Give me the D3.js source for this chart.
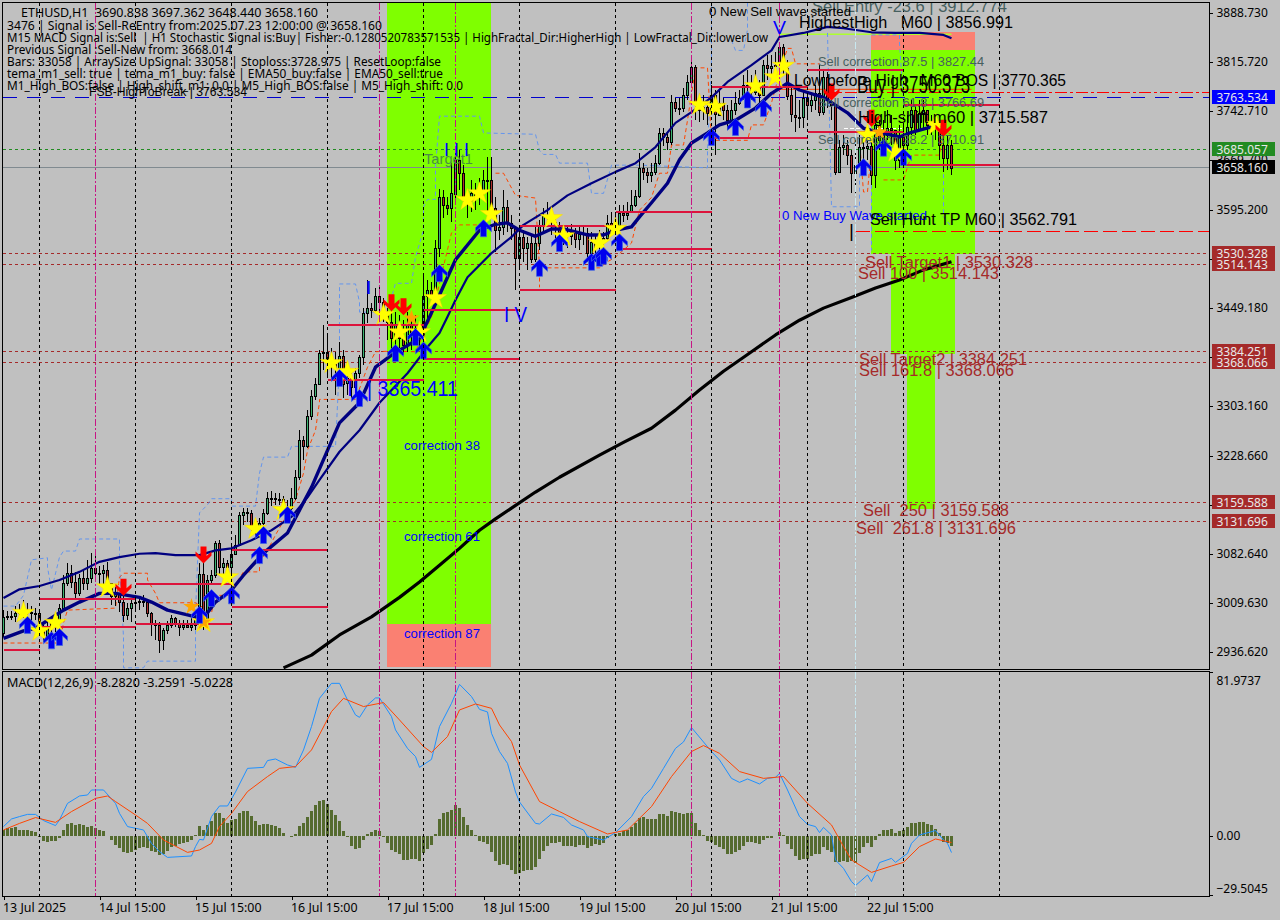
<!DOCTYPE html>
<html><head><meta charset="utf-8">
<script src="https://cdn.jsdelivr.net/npm/d3@7/dist/d3.min.js"></script>
<style>html,body{margin:0;padding:0;background:#c0c0c0;overflow:hidden}svg{display:block}</style>
</head><body><svg id="c" width="1280" height="920"></svg>
<script>
const firstOpen=2965;
const closes=[2989,2990,2990,2995,2998,2999,2996,2995,2995,2974,2960,2972,2980,2983,3002,3039,3054,3041,3024,3047,3039,3047,3062,3054,3054,3059,3039,3020,3024,3011,2992,3002,3010,3011,3013,3011,2995,2980,2977,2954,2969,2977,2987,2980,2974,2977,2974,2977,2984,3053,2981,3044,3051,3099,3063,3069,3063,3083,3096,3141,3145,3144,3121,3118,3129,3144,3166,3166,3165,3165,3153,3151,3166,3197,3252,3243,3288,3318,3336,3382,3383,3373,3366,3360,3378,3337,3345,3331,3352,3376,3442,3449,3446,3467,3458,3439,3428,3404,3424,3404,3394,3424,3409,3419,3404,3467,3476,3468,3538,3614,3602,3597,3620,3670,3650,3613,3610,3620,3617,3622,3640,3640,3598,3565,3570,3600,3576,3568,3524,3555,3538,3546,3522,3546,3571,3586,3586,3577,3573,3562,3559,3556,3562,3552,3559,3561,3531,3547,3540,3550,3553,3576,3565,3573,3591,3588,3591,3602,3616,3658,3652,3647,3652,3665,3710,3704,3696,3756,3747,3747,3766,3786,3808,3755,3744,3749,3740,3766,3737,3755,3744,3729,3744,3755,3762,3781,3778,3771,3781,3766,3811,3807,3810,3811,3838,3807,3766,3737,3734,3734,3762,3752,3759,3769,3741,3793,3758,3752,3652,3689,3692,3677,3650,3662,3689,3687,3690,3647,3722,3699,3707,3717,3714,3670,3707,3692,3719,3744,3714,3740,3744,3722,3722,3717,3692,3673,3692,3658.16];
const highs=[2999,2998,2998,3005,3008,3014,3010,3005,3002,2999,2977,2981,2989,2993,3008,3051,3069,3066,3056,3053,3059,3074,3084,3086,3065,3066,3071,3029,3033,3024,3021,3010,3014,3018,3020,3021,3014,2996,2984,2981,2972,2983,2992,2989,2984,2984,2984,2987,2996,3069,3069,3051,3059,3102,3103,3077,3074,3096,3111,3145,3151,3151,3148,3127,3136,3150,3175,3176,3173,3173,3169,3163,3181,3208,3267,3258,3297,3327,3345,3386,3424,3407,3389,3384,3398,3386,3354,3352,3360,3379,3449,3491,3456,3479,3483,3464,3449,3449,3443,3439,3431,3443,3434,3439,3428,3501,3491,3488,3550,3626,3625,3614,3665,3684,3684,3662,3625,3640,3635,3643,3655,3674,3674,3614,3588,3625,3610,3588,3570,3565,3565,3555,3558,3573,3580,3598,3607,3598,3588,3577,3568,3571,3574,3568,3571,3573,3568,3562,3559,3565,3562,3588,3592,3592,3603,3603,3607,3625,3625,3680,3665,3658,3665,3677,3717,3717,3711,3766,3762,3762,3777,3796,3822,3811,3766,3766,3759,3781,3774,3774,3762,3752,3759,3771,3774,3796,3804,3796,3804,3789,3819,3826,3826,3831,3845,3842,3819,3781,3774,3759,3771,3766,3771,3781,3811,3804,3801,3762,3747,3699,3707,3699,3684,3699,3707,3707,3707,3707,3729,3729,3729,3744,3737,3699,3722,3722,3737,3759,3752,3759,3759,3744,3737,3729,3717,3707,3707,3699];
const lows=[2959,2984,2984,2981,2984,2987,2984,2981,2984,2966,2951,2954,2966,2966,2978,2999,3035,3032,3017,3020,3029,3029,3039,3047,3036,3036,3029,3007,3005,2996,2981,2984,2981,2999,2999,3004,2989,2960,2954,2935,2939,2963,2972,2974,2960,2969,2972,2968,2969,2981,2969,2990,3036,3047,3051,3051,3051,3041,3081,3096,3126,3130,3111,3106,3115,3126,3141,3154,3156,3156,3145,3141,3148,3163,3193,3223,3240,3282,3312,3334,3357,3349,3342,3319,3349,3315,3319,3315,3319,3345,3364,3427,3434,3443,3439,3428,3401,3386,3384,3384,3379,3384,3386,3394,3386,3401,3431,3454,3468,3525,3583,3588,3577,3610,3625,3603,3583,3592,3595,3603,3613,3591,3588,3533,3550,3558,3562,3550,3476,3509,3518,3506,3516,3518,3535,3562,3573,3558,3550,3543,3543,3538,3543,3538,3535,3543,3518,3524,3518,3524,3535,3550,3558,3558,3577,3577,3580,3591,3600,3613,3640,3635,3637,3647,3662,3690,3684,3692,3741,3737,3741,3759,3777,3729,3726,3729,3722,3737,3677,3737,3729,3714,3722,3737,3752,3759,3766,3759,3766,3752,3766,3789,3796,3801,3807,3796,3759,3726,3711,3717,3717,3732,3741,3744,3735,3737,3747,3729,3647,3652,3677,3662,3620,3620,3662,3662,3670,3632,3628,3684,3684,3699,3692,3655,3658,3658,3684,3707,3707,3714,3714,3707,3707,3699,3670,3652,3655,3647];
const macdHist=[3,3.8,4.2,4.7,3,3,3,2.5,2,-0.4,-2.4,-3,-2.4,-2.4,-0.8,3,5.8,6.3,5.3,6,5.3,4.7,5,3.8,3,2.3,0,-2,-4.5,-6.2,-8,-8.3,-7.8,-7,-5.8,-5.3,-5.8,-7.3,-7.8,-9.5,-9,-7.3,-5.3,-5,-4,-3.7,-2.8,-2,0.3,5,3,5.3,7.5,11.7,11.7,8.8,6.7,8,8.5,11.7,12.3,12.5,10.2,7.5,5.5,6.2,5.8,5.5,5.2,4.2,1.7,0.2,-0.7,1,5,6.7,9.7,12.5,15.5,17.7,18,16,13,10.5,7.5,2.7,-0.7,-4.8,-6.3,-5.8,-2,1,2,3,2.5,-0.7,-3.3,-7,-8,-9.2,-12,-12,-11.7,-11.7,-12.5,-8.3,-6.5,-4.5,1,8.5,11.3,11.8,13,15.5,13.8,9.3,5.5,3,0.3,-2.5,-2.8,-4,-8,-12.5,-14.3,-14.2,-14.5,-17,-19,-18.7,-17.5,-17,-17,-15.3,-11.5,-7.5,-4.8,-3.7,-3.7,-3.2,-4.8,-4.8,-5,-5.3,-4.5,-4.5,-5.8,-4.8,-4,-4.5,-3.3,-1.2,0.2,0.8,1.5,2.5,3,4.3,6.3,8.8,9.5,8.5,8.5,8.5,11,11,10.2,12.5,11.8,11.3,11,11.3,11.7,6.7,3,0.5,-2.5,-2.8,-4.5,-5.3,-6.5,-9,-9,-7.8,-7,-4.8,-3.2,-2.8,-3.3,-4,-2,-1.2,-0.8,0.2,1.8,0.5,-4,-6.5,-10,-12,-11.7,-11.7,-10,-9,-9,-5.3,-7,-7.8,-13.2,-13.2,-12.3,-12.8,-12.5,-13.3,-8.7,-5.3,-3.3,-5.7,-2,1,3,3,3.5,1.7,2.7,3,4.3,6.7,6.7,7,7,6,5.7,3.5,1.3,-2.8,-3.3,-5.02];

const macdLineIdx=[0,2,4,6,8,10,13,14,16,19,21,22,25,28,29,31,35,37,39,41,47,48,49,50,52,54,56,58,61,65,66,68,71,73,75,77,79,82,84,86,88,89,91,93,94,97,98,101,103,104,107,109,112,114,117,119,121,122,124,126,128,129,133,134,137,140,142,145,146,150,153,157,160,162,165,168,170,172,177,179,182,184,186,189,191,193,194,196,199,201,203,204,205,207,208,210,212,213,216,217,219,222,223,226,227,229,233,235,236,237];
const macdLineVal=[4.7,8.5,9.7,10.8,10.8,7.7,5.2,8,16.3,20,20.5,23,23,16.3,11.3,4.7,3,-3.7,-7.8,-10.7,-10,-5.3,-1.7,-2,9.7,15,15,22,33.8,34.3,37.7,38.5,35.5,34.3,43,54.7,68.8,76.3,76.3,68,60.5,59.3,65.5,69,69,59.7,53,43.8,39.7,34.3,38.3,54.7,66.3,75.8,69.7,63.3,62,51.3,42.2,36.3,22,17,6.3,6,11,9.3,5.5,3,-0.3,-2,1.7,9.7,19.7,23.8,33.8,43.8,47,54.2,42.2,38,28.8,26.8,28.5,26,28.8,29.3,31.3,23,9.7,5.8,4.7,1.7,4.3,0.5,-12,-16.2,-22.8,-24.8,-19.5,-22.8,-13.3,-11.2,-13.2,-8.7,-3.7,0.5,2.7,-2,-3.7,-8.28];
const signalIdx=[0,4,8,13,17,23,26,28,33,36,40,46,49,52,54,57,61,66,69,73,77,82,85,90,95,99,105,107,111,114,118,122,124,127,129,134,139,144,151,156,162,167,172,175,179,184,190,195,201,207,210,212,217,222,225,229,233,237];
const signalVal=[3,6.3,9.2,6.8,12.2,18.8,20,17.2,10.5,6.3,-2,-8.2,-7,-3.7,4.7,11.3,22.2,29.7,33.8,34.7,43,62.2,68.8,64.7,66.7,58,44.7,41.8,49.7,63,66,63.8,55.5,47.2,35.5,17.2,12.2,7.2,1,3,14.7,29.7,42.2,45.2,41.3,32.2,28.8,29.7,16.3,5.5,-5.3,-12,-18.2,-15,-13.2,-5.3,-1.5,-3.26];

const ema200Idx=[70,77,84,92,99,104,109,114,119,123,127,133,139,149,155,162,168,174,180,187,193,199,205,212,218,224,230,237];
const ema200Val=[2913,2932,2962,2989,3018,3041,3066,3091,3118,3135,3151,3175,3197,3230,3249,3270,3297,3327,3355,3384,3409,3431,3449,3465,3479,3491,3506,3518];
const emaSlowIdx=[0,4,9,14,19,24,29,34,38,43,49,53,57,62,67,72,76,79,84,89,94,101,106,109,111,113,116,122,127,130,136,141,147,153,158,163,168,172,177,181,187,192,194,200,206,210,217,223,229,235,237];
const emaSlowVal=[3017,3030,3035,3044,3056,3071,3078,3083,3084,3081,3081,3088,3091,3103,3118,3138,3167,3193,3235,3267,3308,3352,3391,3412,3436,3461,3495,3531,3555,3573,3595,3617,3635,3652,3665,3689,3725,3741,3763,3786,3811,3833,3853,3859,3868,3866,3860,3859,3859,3856,3851];
const emaFastIdx=[0,5,8,15,19,24,28,34,37,41,46,48,51,53,57,60,65,71,74,77,81,84,89,93,97,104,107,111,113,119,123,126,129,133,137,140,146,150,153,157,159,162,166,169,172,176,179,183,188,192,196,199,205,211,215,219,224,227,232];
const emaFastVal=[2957,2968,2972,2999,3011,3024,3024,3018,3011,2999,2992,2989,2995,3011,3029,3051,3084,3114,3148,3182,3237,3278,3308,3361,3379,3404,3442,3495,3521,3565,3574,3576,3565,3556,3567,3567,3558,3558,3565,3570,3585,3606,3635,3670,3695,3710,3722,3729,3747,3769,3784,3774,3763,3740,3717,3711,3704,3711,3719];

// dashed step bands: each run is a list of [bar, price]
const bandBlue=[
 [[0,3005],[3,3005],[5,3021],[7,3074],[11,3077],[11,3063],[12,3029],[14,3078],[15,3087],[18,3087],[19,3105],[29,3105],[29,3069],[30,2959],[30,2913],[35,2913],[36,2923],[48,2923],[48,2995],[49,3144],[51,3156],[52,3165],[57,3165],[57,3154],[63,3154],[64,3203],[65,3227],[71,3227],[72,3243],[83,3243],[84,3367],[84,3457],[84,3485],[88,3485],[89,3458],[89,3443],[96,3443],[98,3486],[102,3486],[103,3525],[105,3565],[105,3600],[106,3611],[108,3611],[108,3659],[109,3735],[119,3735],[120,3710],[133,3708],[134,3684],[135,3678],[138,3678],[139,3665],[146,3665],[147,3620],[150,3620],[152,3662],[159,3662],[176,3658],[176,3684],[177,3819],[177,3904]],
 [[182,3848],[183,3833],[185,3833],[186,3864],[186,3904]],
 [[206,3859],[207,3600],[214,3600],[214,3650],[217,3650],[217,3535]],
 [[217,3856],[224,3856],[224,3844],[225,3759]],
 [[235,3659],[235,3585],[237,3570]]
];
const bandOrange=[
 [[0,2950],[7,2950],[14,2950],[15,2980],[16,2999],[28,3002],[29,3048],[30,3054],[36,3054],[36,3044],[38,3024],[39,3010],[48,3010],[52,2995],[53,3021],[57,3021],[57,3029],[60,3056],[64,3056],[64,3071],[66,3088],[68,3111],[73,3163],[75,3203],[76,3237],[78,3267],[79,3309],[79,3313],[88,3313],[91,3361],[93,3384],[97,3385],[103,3384],[107,3436],[112,3561],[114,3573],[119,3573]],
 [[123,3650],[125,3650],[128,3617],[133,3613],[134,3509],[134,3480]],
 [[136,3509],[149,3509],[151,3518],[153,3525],[157,3546],[159,3595],[162,3614],[164,3650],[166,3650],[167,3692],[170,3692],[171,3729],[173,3807],[176,3807],[177,3699],[186,3699],[187,3722],[190,3722],[192,3755],[194,3799],[196,3836],[197,3836],[198,3813],[204,3813]],
 [[214,3699],[215,3622],[216,3622],[217,3689]],
 [[220,3640],[225,3640],[226,3659],[227,3677],[234,3677],[235,3714],[237,3707]]
];

// level segments: [start bar, end bar, price]
const levelStart=[0,9,9,33,33,57,57,81,81,105,105,129,129,153,153,177,177,201,201,225,225];
const levelEnd=[9,33,33,57,57,81,81,105,105,129,129,153,153,177,177,201,201,225,225,249,249];
const levelPrice=[2939,3015,2974,3038,2978,3088,3004,3424,3342,3446,3373,3571,3476,3592,3537,3778,3702,3804,3711,3752,3662];

const starBar=[5,9,13,26,50,56,63,70,82,86,95,99,104,108,116,119,122,137,140,149,153,174,178,188,193,195,216,223,233];
const starPrice=[2995,2968,2980,3033,2981,3048,3120,3148,3367,3354,3439,3413,3413,3464,3610,3620,3589,3583,3556,3546,3567,3752,3749,3780,3793,3810,3707,3682,3722];
const upBar=[6,12,14,49,52,57,64,65,71,84,89,98,103,105,109,120,134,139,147,149,150,154,177,183,186,190,215,220,225];
const upPrice=[2977,2954,2959,2992,3017,3021,3081,3111,3141,3345,3315,3382,3406,3386,3501,3568,3509,3546,3518,3524,3527,3547,3704,3719,3760,3747,3659,3688,3674];
const downBar=[30,50,97,100,207,217,235];
const downPrice=[3033,3081,3457,3451,3771,3732,3717];
const orangeBar=[47,50,102,219];
const orangePrice=[3004,2981,3434,3711];

// zones: [start bar, end bar, top price, bottom price]
const zoneGreen=[[96,122,3904,2979],[217,243,3833,3530.328],[222,238,3530.328,3380],[226,233,3380,3150]];
const zoneSalmon=[[96,122,2979,2914],[217,243,3860,3833]];

const blackGridBars=[9,33,57,81,105,129,153,177,201,225,249];
const magentaGridBars=[23,94,113,172,194];
const cyanGridBars=[213];

const axisPrices=[3888.73,3815.72,3742.71,3669.70,3595.20,3522.19,3449.18,3376.17,3303.16,3228.66,3155.65,3082.64,3009.63,2936.62];
const macdTicks=[81.9737,0,-29.5045];
const dateTickBars=[0,24,48,72,96,120,144,168,192,216];
const dateLabels=["13 Jul 2025","14 Jul 15:00","15 Jul 15:00","16 Jul 15:00","17 Jul 15:00","18 Jul 15:00","19 Jul 15:00","20 Jul 15:00","21 Jul 15:00","22 Jul 15:00"];

const priceTagValues=[3763.534,3685.057,3658.160,3530.328,3514.143,3384.251,3368.066,3159.588,3131.696];
const priceTagFills=["#0000ff","#228b22","#000000","#a52a2a","#a52a2a","#a52a2a","#a52a2a","#a52a2a","#a52a2a"];

const commentLines=[
"ETHUSD,H1  3690.838 3697.362 3648.440 3658.160",
"3476 | Signal is Sell-ReEntry from:2025.07.23 12:00:00 @ 3658.160",
"M15 MACD Signal is:Sell  | H1 Stochastic Signal is:Buy| Fisher:-0.1280520783571535 | HighFractal_Dir:HigherHigh | LowFractal_Dir:lowerLow",
"Previous Signal :Sell-New from: 3668.014",
"Bars: 33058 | ArraySize UpSignal: 33058 | Stoploss:3728.975 | ResetLoop:false",
"tema_m1_sell: true | tema_m1_buy: false | EMA50_buy:false | EMA50_sell:true",
"M1_High_BOS:false | High_shift_m1: 0.0 | M5_High_BOS:false | M5_High_shift: 0.0"];
const macdLegend="MACD(12,26,9) -8.2820 -3.2591 -5.0228";
const labelTexts=["Sell Entry -23.6 | 3912.774","0 New Sell wave started","V","HighestHigh   M60 | 3856.991","Sell correction 87.5 | 3827.44","Low before High   M60 BOS | 3770.365","Buy | 3750.373","Sell correction 61.8 | 3766.69","High-shift m60 | 3715.587","Sell correction 38.2 | 3710.91","0 New Buy Wave started","Sell Hunt TP M60 | 3562.791","|","Sell Target1 | 3530.328","Sell 100 | 3514.143","Sell Target2 | 3384.251","Sell 161.8 | 3368.066","Sell  250 | 3159.588","Sell  261.8 | 3131.696","Target1","I I I","I","I V","II","| 3365.411","FSB-HighToBreak | 3763.534","correction 38","correction 61","correction 87"];

// ---------- layout (pixels) kept apart from data
const slate="#47605f",brown="#a52a2a",blue="#0000ff";
const labelLayout=[[812,6,16,slate,195],[709,11,13,"#000",142],[773,27,19,blue,13],[799,22,16,"#000",214],[818,62,12.5,slate,166],[794,80,16,"#000",272],[857,85,23,"#000",113],[818,103,12.5,slate,166],[858,117,16,"#000",190],[818,140,12.5,slate,166],[782,215,13,blue,145],[870,219,16,"#000",207],[849,230,19,"#000",0],[865,262,16,brown,168],[858,273,16,brown,141],[859,359,16,brown,168],[859,370,16,brown,155],[863,510,16,brown,146],[856,528,16,brown,160],[424,158,15,"#4a8f45",49],[444,150,18,blue,0],[366,287,19,blue,0],[504,314,22,blue,23],[347,388,22,blue,0],[367,388,22,blue,91],[89,91,13,"#000",158],[404,446,12.5,blue,76],[404,537,12.5,blue,76],[404,634,12.5,blue,76]];
const commentLayout=[[21,12,297],[7,25,375],[7,37,761],[7,49,225],[7,61,434],[7,73,436],[7,85,456]];

const svg=d3.select("#c");
const x=d3.scaleLinear().domain([0,237]).range([3.5,951.5]);
const y=d3.scaleLinear().domain([3888.73,2936.62]).range([13,652]);
const ym=d3.scaleLinear().domain([81.9737,-29.5045]).range([672,895]);
const X0=2.5,X1=1209.5,Y0=2.5,Y1=669.5,M0=671.5,M1=896.5;
const defs=svg.append("defs");
defs.append("clipPath").attr("id","pm").append("rect").attr("x",X0).attr("y",Y0).attr("width",X1-X0).attr("height",Y1-Y0);
defs.append("clipPath").attr("id","mp").append("rect").attr("x",X0).attr("y",M0).attr("width",X1-X0).attr("height",M1-M0);
defs.append("clipPath").attr("id","all").append("rect").attr("x",0).attr("y",Y0).attr("width",1280).attr("height",920);
svg.append("rect").attr("width",1280).attr("height",920).attr("fill","#c0c0c0");

const main=svg.append("g").attr("clip-path","url(#pm)");
const mp=svg.append("g").attr("clip-path","url(#mp)");

function zones(list,fill){main.selectAll(null).data(list).enter().append("rect")
 .attr("x",d=>x(d[0])-.5).attr("width",d=>x(d[1])-x(d[0])).attr("y",d=>y(d[2])).attr("height",d=>y(d[3])-y(d[2])).attr("fill",fill).attr("shape-rendering","crispEdges");}
zones(zoneGreen,"#7fff00");zones(zoneSalmon,"#fa8072");

function vgrid(bars,color,dash){
 [[Y0,Y1],[M0,M1]].forEach(([a,b])=>{
  svg.append("g").selectAll("line").data(bars).enter().append("line")
   .attr("x1",d=>x(d)).attr("x2",d=>x(d)).attr("y1",a).attr("y2",b)
   .attr("stroke",color).attr("stroke-dasharray",dash).attr("shape-rendering","crispEdges");
 });
}
vgrid(blackGridBars,"#000","3,3");
vgrid(magentaGridBars,"#c71585","7,2,2,2");
vgrid(cyanGridBars,"#c8e8f0","7,2,2,2");

function hline(p,color,dash,x1,w){const py=Math.floor(y(p))+.5;main.append("line").attr("x1",x1).attr("x2",X1).attr("y1",py).attr("y2",py)
 .attr("stroke",color).attr("stroke-dasharray",dash).attr("stroke-width",w||1).attr("shape-rendering","crispEdges");}
hline(3685.057,"#228b22","3,3",X0);
hline(3658.16,"#808a90",null,X0);
hline(3763.534,"#0000cd","14,10",X0);
hline(3770.365,"#ff0000","12,3,3,3",x(205));
hline(3562.791,"#ff0000","14,5",x(213));
[3530.328,3514.143,3384.251,3368.066,3159.588,3131.696].forEach(p=>hline(p,"#a52a2a","3,3",X0));

// orange and white short levels
main.append("line").attr("x1",x(194)).attr("x2",x(242)).attr("y1",y(3775)).attr("y2",y(3775)).attr("stroke","#ff4500").attr("stroke-width",1);
main.append("line").attr("x1",x(210)).attr("x2",x(225)).attr("y1",y(3716)).attr("y2",y(3716)).attr("stroke","#fff").attr("stroke-dasharray","4,2").attr("shape-rendering","crispEdges");
main.append("line").attr("x1",x(194)).attr("x2",x(237)).attr("y1",y(3857)).attr("y2",y(3857)).attr("stroke","#adff2f").attr("stroke-width",1.5);

const lineP=d3.line().x(d=>x(d[0])).y(d=>y(d[1]));
function bands(runs,color){main.append("g").selectAll("path").data(runs).enter().append("path").attr("d",lineP).attr("fill","none")
 .attr("stroke",color).attr("stroke-dasharray","4,3").attr("stroke-width",1);}
bands(bandBlue,"#6495ed");
bands(bandOrange,"#ff4500");

// candles
const rows=closes.map((c,i)=>({i,o:i?closes[i-1]:firstOpen,c,h:highs[i],l:lows[i]}));
const cg=main.append("g").attr("shape-rendering","crispEdges");
const gCandle=cg.selectAll("g").data(rows).enter().append("g");
gCandle.append("line").attr("x1",d=>x(d.i)).attr("x2",d=>x(d.i)).attr("y1",d=>y(Math.max(d.h,d.o,d.c))).attr("y2",d=>y(Math.min(d.l,d.o,d.c))).attr("stroke","#000");
gCandle.append("rect").attr("x",d=>x(d.i)-1).attr("width",2)
 .attr("y",d=>Math.round(y(Math.max(d.o,d.c)))+.5)
 .attr("height",d=>Math.max(1,Math.round(Math.abs(y(d.o)-y(d.c)))))
 .attr("fill",d=>d.c>=d.o?"#3cb371":"#b03030").attr("stroke","#000");

function series(ix,vals,sc,g,color,w){
 const pts=ix.map((b,k)=>[b,vals[k]]);
 g.append("path").attr("d",d3.line().x(d=>x(d[0])).y(d=>sc(d[1]))(pts)).attr("fill","none").attr("stroke",color).attr("stroke-width",w).attr("stroke-linejoin","round");
}
series(ema200Idx,ema200Val,y,main,"#000",3.2);
series(emaSlowIdx,emaSlowVal,y,main,"#000080",2.2);
series(emaFastIdx,emaFastVal,y,main,"#000080",3.4);

// levels
main.append("g").selectAll("line").data(levelPrice).enter().append("line")
 .attr("x1",(d,k)=>x(levelStart[k])).attr("x2",(d,k)=>x(levelEnd[k]))
 .attr("y1",d=>Math.round(y(d))).attr("y2",d=>Math.round(y(d)))
 .attr("stroke","#dc143c").attr("stroke-width",2).attr("shape-rendering","crispEdges");

// markers
const star=d3.symbol().type(d3.symbolStar).size(150);
main.append("g").selectAll("path").data(starBar).enter().append("path").attr("d",star)
 .attr("transform",(d,k)=>`translate(${x(d)},${y(starPrice[k])})`).attr("fill","#ffff00").attr("stroke","#ffd700").attr("stroke-width",.5);
main.append("g").selectAll("path").data(orangeBar).enter().append("path").attr("d",d3.symbol().type(d3.symbolStar).size(85))
 .attr("transform",(d,k)=>`translate(${x(d)},${y(orangePrice[k])})`).attr("fill","#ffa500");
const arrow="M0,-8.5L8,-0.5L8,3.5L3,-1L3,8.5L-3,8.5L-3,-1L-8,3.5L-8,-0.5Z";
main.append("g").selectAll("path").data(upBar).enter().append("path").attr("d",arrow)
 .attr("transform",(d,k)=>`translate(${x(d)},${y(upPrice[k])})`).attr("fill","#0000ee").attr("stroke","#4169e1").attr("stroke-width",.7);
main.append("g").selectAll("path").data(downBar).enter().append("path").attr("d",arrow)
 .attr("transform",(d,k)=>`translate(${x(d)},${y(downPrice[k])}) scale(1,-1)`).attr("fill","#ff0000");

// labels
function txt(g,s,xp,yp,size,color,width,font){
 const t=g.append("text").attr("x",xp).attr("y",yp).attr("dominant-baseline","central").attr("font-size",size)
  .attr("font-family",font).attr("fill",color).style("white-space","pre").text(s);
 if(width)t.attr("textLength",width).attr("lengthAdjust","spacingAndGlyphs");
 return t;
}
const labelG=svg.append("g").attr("clip-path","url(#all)");
labelTexts.forEach((s,k)=>{const l=labelLayout[k];txt(labelG,s,l[0],l[1],l[2],l[3],l[4],"'Liberation Sans',Arial,sans-serif");});
commentLines.forEach((s,k)=>{const l=commentLayout[k];txt(svg,s,l[0],l[1],12,"#000",l[2],"'Noto Sans',sans-serif");});
txt(svg,macdLegend,7,682,12,"#000",226,"'Noto Sans',sans-serif");

// MACD pane
mp.append("g").selectAll("rect").data(macdHist).enter().append("rect")
 .attr("x",(d,i)=>x(i)-1.5).attr("width",3)
 .attr("y",d=>Math.min(ym(d),ym(0))).attr("height",d=>Math.abs(ym(d)-ym(0)))
 .attr("fill","#556b2f").attr("shape-rendering","crispEdges");
series(macdLineIdx,macdLineVal,ym,mp,"#1e90ff",1);
series(signalIdx,signalVal,ym,mp,"#ff4500",1);

// frame
svg.append("g").attr("fill","none").attr("stroke","#000").attr("shape-rendering","crispEdges").selectAll("rect")
 .data([[X0,Y0,X1-X0,Y1-Y0],[X0,M0,X1-X0,M1-M0]]).enter().append("rect")
 .attr("x",d=>d[0]).attr("y",d=>d[1]).attr("width",d=>d[2]).attr("height",d=>d[3]);

// axes
const fAxis="'Noto Sans',sans-serif";
const ay=svg.append("g").attr("transform",`translate(${X1},0)`).call(d3.axisRight(y).tickValues(axisPrices).tickSize(3).tickFormat(d3.format(".3f")));
const am=svg.append("g").attr("transform",`translate(${X1},0)`).call(d3.axisRight(ym).tickValues(macdTicks).tickSize(3).tickFormat(d=>d===0?"0.00":d3.format(".4f")(d)));
am.selectAll("text").attr("dy",(d)=>d>1?"1.05em":d<-1?"-0.2em":"0.32em");
const ax=svg.append("g").attr("transform",`translate(0,${M1})`).call(d3.axisBottom(x).tickValues(dateTickBars).tickSize(3).tickFormat((d,i)=>dateLabels[i]));
ax.selectAll("text").attr("text-anchor","start").attr("dx","-1").attr("y",7).attr("dy","0.71em");
[ay,am,ax].forEach(a=>{a.select(".domain").remove();a.selectAll("text").attr("font-family",fAxis).attr("font-size",12).attr("fill","#000");a.selectAll("line").attr("shape-rendering","crispEdges");});
ax.selectAll("text").attr("font-size",12.4);
ay.selectAll("text").attr("x",7);am.selectAll("text").attr("x",7);

// price tags
const tags=svg.append("g");
tags.selectAll("rect").data(priceTagValues).enter().append("rect").attr("x",X1+2).attr("width",63)
 .attr("y",d=>Math.floor(y(d))-7).attr("height",14).attr("fill",(d,k)=>priceTagFills[k]).attr("shape-rendering","crispEdges");
tags.selectAll("text").data(priceTagValues).enter().append("text").attr("x",X1+7).attr("y",d=>Math.floor(y(d))).attr("dominant-baseline","central")
 .attr("font-size",12).attr("font-family",fAxis).attr("fill","#e8e8e8").text(d=>d3.format(".3f")(d));
</script></body></html>
